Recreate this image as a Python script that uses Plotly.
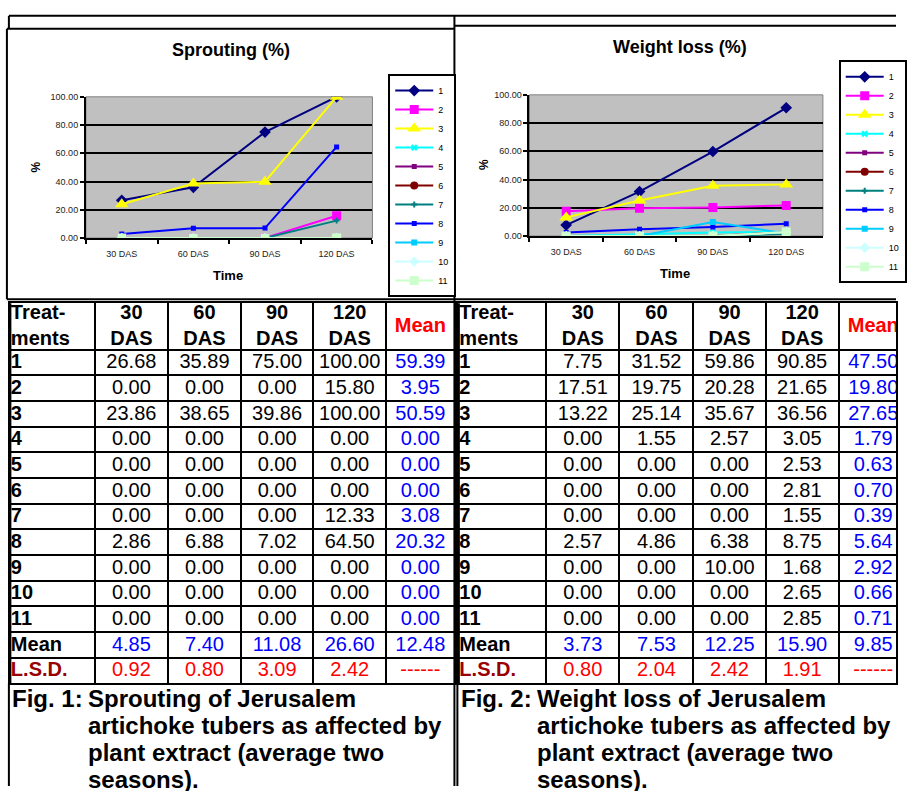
import plotly.graph_objects as go

W, H = 907, 791
FONT = "Liberation Sans, Arial, sans-serif"

# ---------------- data ----------------
times = ["30 DAS", "60 DAS", "90 DAS", "120 DAS"]
treatments = ["1", "2", "3", "4", "5", "6", "7", "8", "9", "10", "11"]
header_labels = ["Treat-<br>ments", "30<br>DAS", "60<br>DAS", "90<br>DAS", "120<br>DAS", "Mean"]

# Sprouting (%)
sprout_30 = [26.68, 0.00, 23.86, 0.00, 0.00, 0.00, 0.00, 2.86, 0.00, 0.00, 0.00]
sprout_60 = [35.89, 0.00, 38.65, 0.00, 0.00, 0.00, 0.00, 6.88, 0.00, 0.00, 0.00]
sprout_90 = [75.00, 0.00, 39.86, 0.00, 0.00, 0.00, 0.00, 7.02, 0.00, 0.00, 0.00]
sprout_120 = [100.00, 15.80, 100.00, 0.00, 0.00, 0.00, 12.33, 64.50, 0.00, 0.00, 0.00]
sprout_row_mean = [59.39, 3.95, 50.59, 0.00, 0.00, 0.00, 3.08, 20.32, 0.00, 0.00, 0.00]
sprout_col_mean = [4.85, 7.40, 11.08, 26.60, 12.48]
sprout_lsd = [0.92, 0.80, 3.09, 2.42]

# Weight loss (%)
wloss_30 = [7.75, 17.51, 13.22, 0.00, 0.00, 0.00, 0.00, 2.57, 0.00, 0.00, 0.00]
wloss_60 = [31.52, 19.75, 25.14, 1.55, 0.00, 0.00, 0.00, 4.86, 0.00, 0.00, 0.00]
wloss_90 = [59.86, 20.28, 35.67, 2.57, 0.00, 0.00, 0.00, 6.38, 10.00, 0.00, 0.00]
wloss_120 = [90.85, 21.65, 36.56, 3.05, 2.53, 2.81, 1.55, 8.75, 1.68, 2.65, 2.85]
wloss_row_mean = [47.50, 19.80, 27.65, 1.79, 0.63, 0.70, 0.39, 5.64, 2.92, 0.66, 0.71]
wloss_col_mean = [3.73, 7.53, 12.25, 15.90, 9.85]
wloss_lsd = [0.80, 2.04, 2.42, 1.91]

# ---------------- styles ----------------
colors = ["#000080", "#FF00FF", "#FFFF00", "#00FFFF", "#800080", "#800000",
          "#008080", "#0000FF", "#00CCFF", "#CCFFFF", "#CCFFCC"]
symbols = ["diamond", "square", "triangle-up", "x", "square", "circle",
           "cross", "square", "square", "diamond", "square"]
msizes = [9, 9, 12, 6, 5, 8, 5, 5, 6, 8, 9]


def px(x):
    return x / W


def py(y):
    return 1 - y / H


fig = go.Figure()

# ---------------- line charts ----------------
def add_chart(cols, xa, ya, legend):
    for i, t in enumerate(treatments):
        yv = [c[i] for c in cols]
        fig.add_trace(go.Scatter(
            x=times, y=yv, name=t, mode="lines+markers",
            line=dict(color=colors[i], width=2),
            marker=dict(symbol=symbols[i], size=msizes[i], color=colors[i],
                        line=dict(width=0)),
            xaxis=xa, yaxis=ya, legend=legend, hoverinfo="skip"))


add_chart([sprout_30, sprout_60, sprout_90, sprout_120], "x", "y", "legend")
add_chart([wloss_30, wloss_60, wloss_90, wloss_120], "x2", "y2", "legend2")

# ---------------- tables (drawn on their own axes) ----------------
HEADER_H = 47
ROW_H = 26


def fmt(v):
    return "%.2f" % v


def add_table(k, c30, c60, c90, c120, rmean, cmean, lsd, left, top, widths, xspan):
    xa, ya = "x%d" % k, "y%d" % k
    bounds = [0]
    for w in widths:
        bounds.append(bounds[-1] + w)
    n = len(treatments)
    nrows = n + 2
    ybounds = [0, HEADER_H] + [HEADER_H + ROW_H * (r + 1) for r in range(nrows)]
    total_h = ybounds[-1]
    ycent = [(ybounds[r] + ybounds[r + 1]) / 2 + 1 for r in range(len(ybounds) - 1)]

    first = [t for t in treatments] + ["Mean", "L.S.D."]
    datacols = []
    for j, c in enumerate([c30, c60, c90, c120]):
        datacols.append([fmt(v) for v in c] + [fmt(cmean[j]), fmt(lsd[j])])
    meancol = [fmt(v) for v in rmean] + [fmt(cmean[4]), "------"]
    allcols = [first] + datacols + [meancol]

    for j, col in enumerate(allcols):
        head = "<b>%s</b>" % header_labels[j]
        if j == 0:
            texts = [head] + ["<b>%s</b>" % v for v in col]
            cols_c = ["black"] * (n + 2) + ["#990000"]
            xs = [bounds[0] + 1] * (nrows + 1)
            pos = "middle right"
        else:
            texts = [head] + col
            if j == len(allcols) - 1:
                cols_c = ["red"] + ["blue"] * (n + 1) + ["red"]
            else:
                cols_c = ["black"] * (n + 1) + ["blue", "red"]
            xs = [(bounds[j] + bounds[j + 1]) / 2] * (nrows + 1)
            pos = "middle center"
        fig.add_trace(go.Scatter(
            x=xs, y=ycent, text=texts, mode="text", textposition=pos,
            textfont=dict(family=FONT, size=20, color=cols_c),
            xaxis=xa, yaxis=ya, showlegend=False, hoverinfo="skip",
            cliponaxis=True))

    grid = dict(showgrid=True, gridcolor="black", gridwidth=2, showticklabels=False,
                ticks="", zeroline=False, showline=True, mirror=True,
                linecolor="black", linewidth=2, fixedrange=True)
    fig.update_layout(**{
        "xaxis%d" % k: dict(domain=[px(left), px(left + xspan)], range=[0, xspan],
                            tickvals=bounds[1:-1], anchor=ya, **grid),
        "yaxis%d" % k: dict(domain=[py(top + total_h), py(top)], range=[total_h, 0],
                            tickvals=ybounds[1:-1], anchor=xa, **grid),
    })
    # thick left border of the table
    fig.add_shape(type="line", xref=xa + " domain", yref=ya + " domain",
                  x0=0, x1=0, y0=0, y1=1, line=dict(color="black", width=3))


add_table(3, sprout_30, sprout_60, sprout_90, sprout_120, sprout_row_mean,
          sprout_col_mean, sprout_lsd, 10, 302, [86, 74, 74, 73, 74, 69], 450)
add_table(4, wloss_30, wloss_60, wloss_90, wloss_120, wloss_row_mean,
          wloss_col_mean, wloss_lsd, 464, 302, [89, 74, 75, 73, 74, 70], 443)

# ---------------- axes for charts ----------------
axis_common = dict(showline=True, linecolor="black", linewidth=2, mirror=False,
                   tickfont=dict(family=FONT, size=9, color="#222"),
                   ticks="outside", ticklen=4, tickcolor="black", tickwidth=2,
                   zeroline=False, fixedrange=True)
yaxis_common = dict(range=[0, 100], tickvals=[0, 20, 40, 60, 80, 100], tickformat=".2f",
                    showgrid=False,
                    minor=dict(tickvals=[20, 40, 60, 80], showgrid=True,
                               gridcolor="black", gridwidth=2, ticks=""))
xaxis_common = dict(tickson="boundaries", range=[-0.5, 3.5], showgrid=False,
                    ticklabelstandoff=6)

fig.update_layout(
    width=W, height=H, margin=dict(l=0, r=0, t=0, b=0),
    paper_bgcolor="white", plot_bgcolor="rgba(0,0,0,0)",
    font=dict(family=FONT, color="black"),
    xaxis=dict(domain=[px(87), px(377)], anchor="y", **xaxis_common, **axis_common),
    yaxis=dict(domain=[py(236), py(93)], anchor="x", **yaxis_common, **axis_common),
    xaxis2=dict(domain=[px(536), px(833)], anchor="y2", **xaxis_common, **axis_common),
    yaxis2=dict(domain=[py(234), py(91)], anchor="x2", **yaxis_common, **axis_common),
    legend=dict(x=px(393), y=py(70), xanchor="left", yanchor="top",
                bordercolor="black", borderwidth=2, bgcolor="white",
                font=dict(family=FONT, size=9), itemwidth=38, tracegroupgap=0),
    legend2=dict(x=px(849), y=py(56), xanchor="left", yanchor="top",
                 bordercolor="black", borderwidth=2, bgcolor="white",
                 font=dict(family=FONT, size=9), itemwidth=38, tracegroupgap=0),
    showlegend=True,
)

# grey plot areas
for xa, ya in [("x", "y"), ("x2", "y2")]:
    fig.add_shape(type="rect", xref=xa + " domain", yref=ya + " domain",
                  x0=0, x1=1, y0=0, y1=1, layer="below",
                  fillcolor="#C0C0C0", line=dict(color="#808080", width=1))

# chart titles and axis titles
for txt, x, y, size, ang in [
    ("Sprouting (%)", 234, 46, 18, 0), ("Weight loss (%)", 688, 43, 18, 0),
    ("Time", 231, 274, 13, 0), ("Time", 683, 272, 13, 0),
    ("%", 36, 164, 12, -90), ("%", 490, 162, 12, -90),
]:
    fig.add_annotation(text="<b>%s</b>" % txt, x=px(x), y=py(y), xref="paper",
                       yref="paper", xanchor="center", yanchor="middle", showarrow=False,
                       textangle=ang, font=dict(size=size))

# captions (one annotation per line)
captions = [
    (10, 87, "Fig. 1:", ["Sprouting of Jerusalem", "artichoke tubers as affected by",
                         "plant extract (average two", "seasons)."]),
    (465, 542, "Fig. 2:", ["Weight loss of Jerusalem", "artichoke tubers as affected by",
                          "plant extract (average two", "seasons)."]),
]
line_y = [702, 730, 757, 784]
for x_num, x_body, num, lines in captions:
    fig.add_annotation(text="<b>%s</b>" % num, x=px(x_num), y=py(line_y[0]), xref="paper",
                       yref="paper", xanchor="left", yanchor="middle", showarrow=False,
                       font=dict(size=24))
    for ly, txt in zip(line_y, lines):
        fig.add_annotation(text="<b>%s</b>" % txt, x=px(x_body), y=py(ly), xref="paper",
                           yref="paper", xanchor="left", yanchor="middle", showarrow=False,
                           font=dict(size=24))

# frame lines of the page layout
frame = [
    (9, 11, 907, 11), (9, 11, 9, 24), (460, 11, 460, 791),
    (7, 24, 460, 24), (460, 21, 907, 21), (7, 24, 7, 298),
    (7, 298, 907, 298), (9, 687, 9, 791), (463, 687, 463, 791),
]
for x0, y0, x1, y1 in frame:
    fig.add_shape(type="line", xref="paper", yref="paper",
                  x0=px(x0), y0=py(y0), x1=px(x1), y1=py(y1),
                  line=dict(color="black", width=2))

fig.write_html("out.html")
